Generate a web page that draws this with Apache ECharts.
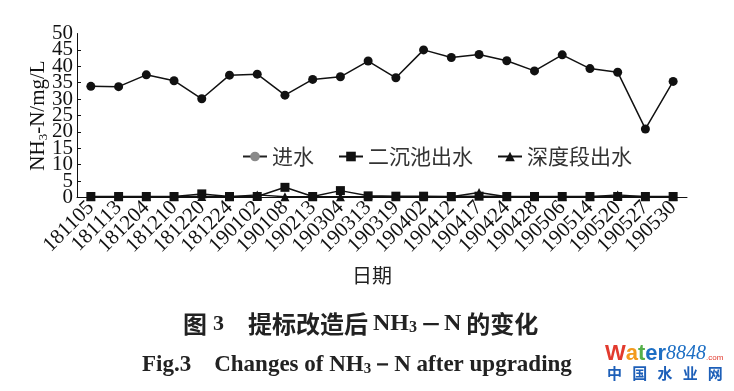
<!DOCTYPE html>
<html>
<head>
<meta charset="utf-8">
<script src="https://cdn.jsdelivr.net/npm/echarts@6/dist/echarts.min.js"></script>
<style>
html,body{margin:0;padding:0;background:#fff;}
#c{width:734px;height:391px;}
</style>
</head>
<body>
<div id="c"></div>
<script>
const categories = ['181105','181113','181204','181210','181220','181224','190102','190108','190213','190304','190313','190319','190402','190412','190417','190424','190428','190506','190514','190520','190527','190530'];
const influent = [33.9,33.8,37.4,35.6,30.1,37.3,37.6,31.2,36.0,36.8,41.6,36.5,45.0,42.7,43.6,41.7,38.6,43.5,39.3,38.2,20.9,35.4];
const secondaryEffluent = [0.3,0.3,0.3,0.3,1.1,0.3,0.3,3.1,0.3,2.1,0.5,0.4,0.4,0.3,0.4,0.3,0.3,0.3,0.3,0.3,0.3,0.3];
const advancedEffluent = [0.2,0.2,0.2,0.2,0.3,0.2,0.8,0.2,0.2,0.2,0.2,0.2,0.2,0.2,1.5,0.2,0.2,0.2,0.2,0.8,0.2,0.2];
const yTicks = [0,5,10,15,20,25,30,35,40,45,50];

const chart = echarts.init(document.getElementById('c'), null, {renderer:'canvas'});
const serif = '"Liberation Serif", "Times New Roman", serif';
const cjk = '"Noto Sans CJK SC", sans-serif';
const yMin = yTicks[0], yMax = yTicks[yTicks.length-1];
const yLabelStyle = {fontFamily:serif, fontSize:21, color:'#111', margin:4};
chart.setOption({
  backgroundColor:'#fff',
  animation:false,
  grid:{left:77, top:33.5, right:47, bottom:193.5, containLabel:false},
  legend:{
    top:141, left:237, itemWidth:24, itemHeight:12, itemGap:24,
    textStyle:{fontFamily:cjk, fontSize:21, color:'#333'},
    data:[
      {name:'进水', itemStyle:{color:'#8a8a8a'}, lineStyle:{color:'#222'}},
      {name:'二沉池出水'},
      {name:'深度段出水'}
    ]
  },
  xAxis:{
    type:'category', data:categories, boundaryGap:true,
    name:'日期', nameLocation:'middle', nameGap:68,
    nameTextStyle:{fontFamily:cjk, fontSize:20, color:'#222', padding:[0,20,0,0]},
    axisLine:{lineStyle:{color:'#111', width:1}},
    axisTick:{inside:true, length:3, lineStyle:{color:'#111'}},
    axisLabel:{rotate:45, fontFamily:serif, fontSize:21, color:'#111', margin:7, interval:0}
  },
  yAxis:[{
    type:'value', min:yMin, max:yMax, interval:5,
    name:'{a|NH}{s|3}{a|-N/mg/L}', nameLocation:'middle', nameRotate:90, nameGap:27,
    nameMoveOverlap:false,
    nameTextStyle:{rich:{
      a:{fontFamily:serif, fontSize:21, color:'#111', lineHeight:24},
      s:{fontFamily:serif, fontSize:13, color:'#111', lineHeight:24, verticalAlign:'bottom', padding:[8,0,0,0]}
    }},
    splitLine:{show:false},
    axisLine:{show:true, lineStyle:{color:'#111', width:1}},
    axisTick:{show:true, inside:true, length:4, lineStyle:{color:'#111'}},
    axisLabel:Object.assign({showMinLabel:false, showMaxLabel:false}, yLabelStyle)
  },{
    type:'value', min:yMin, max:yMax, interval:yMax-yMin, position:'left', offset:0,
    splitLine:{show:false}, axisLine:{show:false}, axisTick:{show:false},
    axisLabel:Object.assign({showMinLabel:true, showMaxLabel:true}, yLabelStyle)
  }],
  series:[
    {name:'进水', type:'line', data:influent, symbol:'circle', symbolSize:9,
     lineStyle:{color:'#111', width:1.5}, itemStyle:{color:'#111'}},
    {name:'二沉池出水', type:'line', data:secondaryEffluent, symbol:'rect', symbolSize:9,
     lineStyle:{color:'#111', width:1.5}, itemStyle:{color:'#111'}},
    {name:'深度段出水', type:'line', data:advancedEffluent, symbol:'triangle', symbolSize:9,
     lineStyle:{color:'#111', width:1.5}, itemStyle:{color:'#111'}}
  ],
  graphic:[
    {type:'text', left:183, top:312, style:{
      text:'{c|图}{n|3}{c|提标改造后}{h|NH}{bs|3}{d|－}{b|N}{e|的变化}',
      rich:{
        c:{fontFamily:cjk, fontSize:24, fontWeight:'bold', fill:'#222'},
        e:{fontFamily:cjk, fontSize:24, fontWeight:'bold', fill:'#222', padding:[0,0,0,5]},
        n:{fontFamily:serif, fontSize:22, fontWeight:'bold', fill:'#222', padding:[0,24,0,6]},
        d:{fontFamily:cjk, fontSize:22, fontWeight:'bold', fill:'#222', padding:[0,0,0,3]},
        h:{fontFamily:serif, fontSize:24, fontWeight:'bold', fill:'#222', padding:[0,0,0,5]},
        b:{fontFamily:serif, fontSize:24, fontWeight:'bold', fill:'#222', padding:[0,0,0,2]},
        bs:{fontFamily:serif, fontSize:16, fontWeight:'bold', fill:'#222', padding:[7,0,0,0]}
      }}},
    {type:'text', left:142, top:354, style:{
      text:'{b|Fig.3    Changes of NH}{bs|3}{b|－N after upgrading}',
      rich:{
        b:{fontFamily:serif, fontSize:23, fontWeight:'bold', fill:'#222'},
        bs:{fontFamily:serif, fontSize:15, fontWeight:'bold', fill:'#222', padding:[7,0,0,0]}
      }}},
    {type:'text', left:605, top:343, style:{
      text:'{r|W}{o|a}{g|t}{bl|er}{n|8848}{m|.com}',
      rich:{
        r:{fontFamily:'"Liberation Sans", sans-serif', fontSize:22, fontWeight:'bold', fill:'#e23a2e'},
        o:{fontFamily:'"Liberation Sans", sans-serif', fontSize:22, fontWeight:'bold', fill:'#f39a1e'},
        g:{fontFamily:'"Liberation Sans", sans-serif', fontSize:22, fontWeight:'bold', fill:'#55b04a'},
        bl:{fontFamily:'"Liberation Sans", sans-serif', fontSize:22, fontWeight:'bold', fill:'#1d6fc4'},
        n:{fontFamily:serif, fontSize:20, fontStyle:'italic', fill:'#1d6fc4'},
        m:{fontFamily:'"Liberation Sans", sans-serif', fontSize:8, fill:'#e23a2e', padding:[8,0,0,0]}
      }}},
    {type:'text', left:607, top:366, style:{
      text:'中   国   水   业   网', fontFamily:cjk, fontSize:15, fontWeight:'bold', fill:'#1d5fb8'
    }}
  ]
});
</script>
</body>
</html>
